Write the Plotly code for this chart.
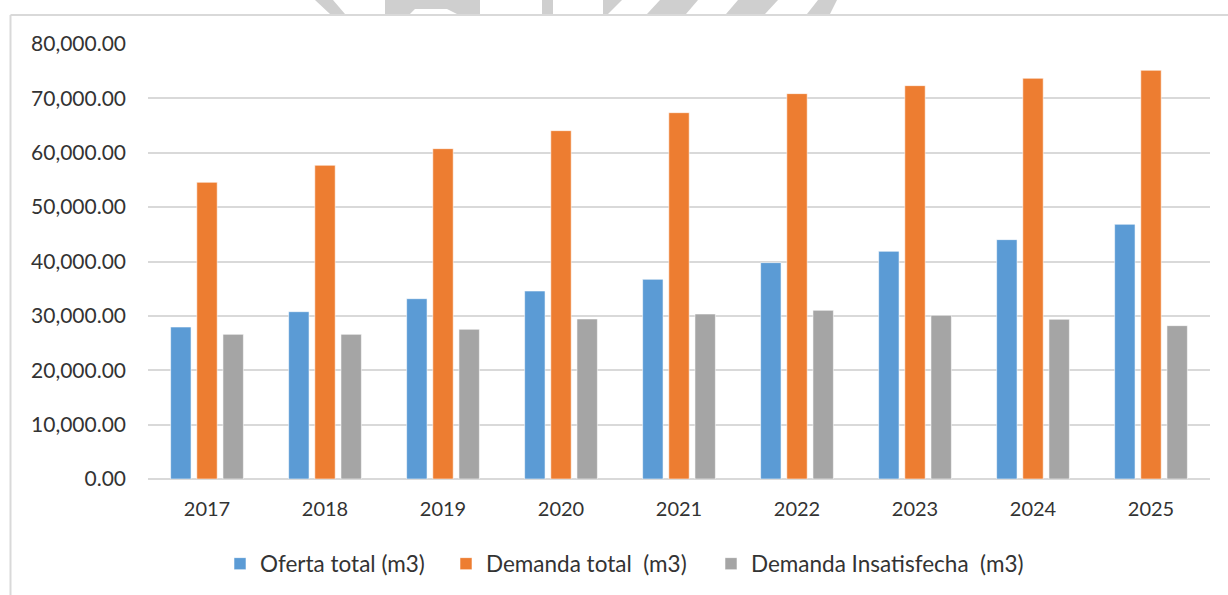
import plotly.graph_objects as go

# Annual volumes (m3)
years = ["2017", "2018", "2019", "2020", "2021", "2022", "2023", "2024", "2025"]
oferta_total = [27950, 30770, 33160, 34570, 36720, 39790, 41870, 44020, 46840]
demanda_total = [54560, 57690, 60750, 64060, 67370, 70870, 72340, 73690, 75160]
demanda_insatisfecha = [26600, 26600, 27530, 29430, 30340, 31020, 30100, 29370, 28200]

series_names = ["Oferta total (m3)", "Demanda total\u00a0 (m3)", "Demanda Insatisfecha\u00a0 (m3)"]
series_colors = ["#5B9BD5", "#ED7D31", "#A5A5A5"]
y_ticks = [0, 10000, 20000, 30000, 40000, 50000, 60000, 70000, 80000]

W, H = 1228, 595
L, R, T, B = 148, 18, 44, 116
PW, PH = W - L - R, H - T - B

FONT = "Lato"
TXT = "#333333"
GRID = "#D9D9D9"


def px(x):
    return (x - L) / PW


def py(y):
    return (H - B - y) / PH


fig = go.Figure()
legend_ids = ["legend", "legend2", "legend3"]
for vals, name, col, lg in zip(
    [oferta_total, demanda_total, demanda_insatisfecha], series_names, series_colors, legend_ids
):
    fig.add_trace(
        go.Bar(
            x=years,
            y=vals,
            name=name,
            marker=dict(color=col, line=dict(color="rgba(255,255,255,0.55)", width=1)),
            legend=lg,
            showlegend=True,
            hovertemplate="%{x}: %{y:,.2f}<extra>" + name + "</extra>",
        )
    )

# Chart-area frame
shapes = [
    dict(type="line", xref="paper", yref="paper", x0=px(10.5), x1=px(1240), y0=py(15), y1=py(15),
         line=dict(color=GRID, width=2)),
    dict(type="line", xref="paper", yref="paper", x0=px(10.5), x1=px(10.5), y0=py(15), y1=py(610),
         line=dict(color=GRID, width=2)),
]

# Faint logo strip above the frame
logo_polys = [
    [(315, 0), (333, 0), (345, 14), (330, 14)],
    [(385, 0), (480, 0), (480, 14), (457, 14), (447, 9), (415, 9), (410, 14), (385, 14)],
    [(542, 0), (553, 0), (553, 14), (542, 14)],
    [(603, 0), (622, 0), (608, 14), (603, 14)],
    [(660, 0), (698, 0), (686, 14), (647, 14)],
    [(738, 0), (778, 0), (765, 14), (726, 14)],
    [(818, 0), (837, 0), (830, 14), (807, 14)],
]
for poly in logo_polys:
    path = "M " + " L ".join(f"{px(x):.5f},{py(y):.5f}" for x, y in poly) + " Z"
    shapes.append(dict(type="path", xref="paper", yref="paper", path=path,
                       fillcolor="#CFCFCF", line=dict(width=0), layer="below"))

# One legend per series, placed in container coordinates so the plot area is not resized
legend_font = dict(family=FONT, size=22.5, color=TXT)
legend_x = [220, 446, 711]
legend_cfg = {}
for lg, xpos in zip(legend_ids, legend_x):
    legend_cfg[lg] = dict(
        orientation="h", xref="container", yref="container",
        x=xpos / W, xanchor="left", y=1 - 564 / H, yanchor="middle",
        bgcolor="rgba(0,0,0,0)", borderwidth=0, font=legend_font,
    )

fig.update_layout(
    width=W,
    height=H,
    margin=dict(l=L, r=R, t=T, b=B, pad=0, autoexpand=False),
    paper_bgcolor="white",
    plot_bgcolor="white",
    barmode="group",
    bargap=0.335,
    bargroupgap=0.22,
    showlegend=True,
    font=dict(family=FONT, size=20, color=TXT),
    shapes=shapes,
    **legend_cfg,
)

fig.update_yaxes(
    range=[0, 80000],
    tickvals=y_ticks,
    tickformat=",.2f",
    showgrid=True,
    gridcolor=GRID,
    gridwidth=2,
    zeroline=True,
    zerolinecolor=GRID,
    zerolinewidth=2,
    showline=False,
    ticks="",
    ticklabelstandoff=21,
    tickfont=dict(family=FONT, size=21, color=TXT),
)
fig.update_xaxes(
    showgrid=False,
    showline=False,
    ticks="",
    ticklabelstandoff=16,
    tickfont=dict(family=FONT, size=20, color=TXT),
)

fig.write_html("out.html")
